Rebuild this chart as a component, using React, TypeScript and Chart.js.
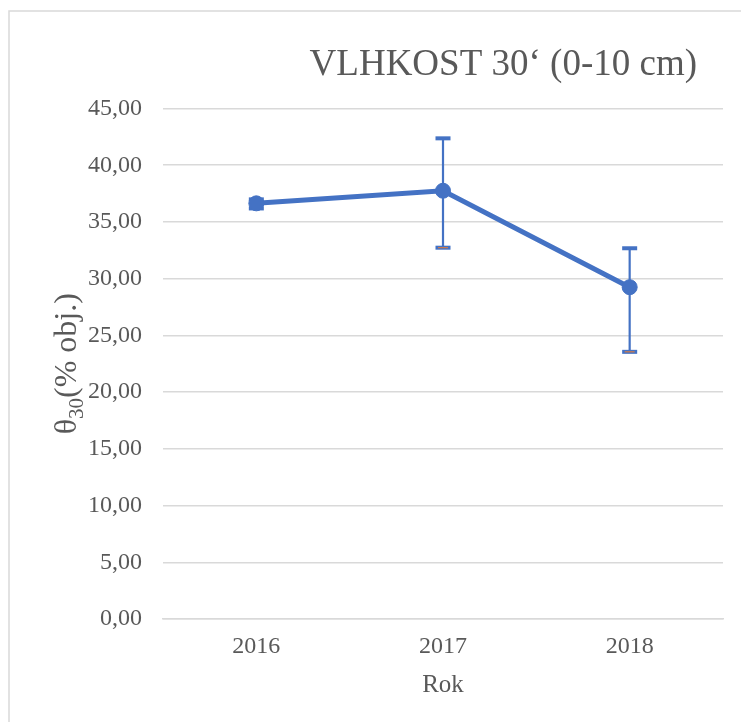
import React, { useEffect, useRef } from "react";
import { Chart, registerables } from "chart.js";

Chart.register(...registerables);

const categories = ["2016", "2017", "2018"];
const means = [36.64, 37.75, 29.25];
const errPlus = [0.35, 4.62, 3.43];
const errMinus = [0.45, 5.02, 5.7];
const yTicks = [0, 5, 10, 15, 20, 25, 30, 35, 40, 45];

const BLUE = "#4472C4";
const ORANGE = "#ED7D31";
const GRID = "#d9d9d9";
const TEXT = "#595959";
const FONT = "'Liberation Serif', 'Times New Roman', serif";

const framePlugin = {
  id: "frame",
  beforeDraw(chart: any) {
    const ctx = chart.ctx;
    ctx.save();
    ctx.fillStyle = "#ffffff";
    ctx.fillRect(0, 0, chart.width, chart.height);
    ctx.strokeStyle = GRID;
    ctx.lineWidth = 1.5;
    ctx.beginPath();
    ctx.moveTo(9, chart.height);
    ctx.lineTo(9, 11);
    ctx.lineTo(chart.width, 11);
    ctx.stroke();
    ctx.restore();
  },
  afterDraw(chart: any) {
    const ctx = chart.ctx;
    ctx.save();
    ctx.fillStyle = TEXT;
    // Title
    ctx.font = `37px ${FONT}`;
    ctx.textAlign = "right";
    ctx.textBaseline = "alphabetic";
    ctx.fillText("VLHKOST 30\u2018 (0-10 cm)", 697, 75);
    // Y axis title with subscript
    const area = chart.chartArea;
    const cy = (area.top + area.bottom) / 2;
    ctx.translate(76, cy);
    ctx.rotate(-Math.PI / 2);
    const big = `32px ${FONT}`;
    const small = `21px ${FONT}`;
    ctx.font = big;
    const w1 = ctx.measureText("\u03b8").width;
    const w3 = ctx.measureText("(% obj.)").width;
    ctx.font = small;
    const w2 = ctx.measureText("30").width;
    const total = w1 + w2 + w3;
    let x = -total / 2;
    ctx.textAlign = "left";
    ctx.font = big;
    ctx.fillText("\u03b8", x, 0);
    x += w1;
    ctx.font = small;
    ctx.fillText("30", x, 7);
    x += w2;
    ctx.font = big;
    ctx.fillText("(% obj.)", x, 0);
    ctx.restore();
  },
};

const errorBarPlugin = {
  id: "errorBars",
  beforeDatasetsDraw(chart: any) {
    const ctx = chart.ctx;
    const xs = chart.scales.x;
    const ys = chart.scales.y;
    ctx.save();
    means.forEach((m, i) => {
      const x = xs.getPixelForValue(i);
      const yt = ys.getPixelForValue(m + errPlus[i]);
      const yb = ys.getPixelForValue(m - errMinus[i]);
      ctx.strokeStyle = BLUE;
      ctx.lineWidth = 2.2;
      ctx.beginPath();
      ctx.moveTo(x, yt);
      ctx.lineTo(x, yb);
      ctx.stroke();
      ctx.fillStyle = BLUE;
      ctx.fillRect(x - 7.5, yt - 2, 15, 4);
      ctx.fillRect(x - 7.5, yb - 2, 15, 4);
      ctx.fillStyle = ORANGE;
      ctx.fillRect(x - 5, yb - 0.5, 10, 1);
    });
    ctx.restore();
  },
};

export default function App() {
  const ref = useRef<HTMLCanvasElement | null>(null);
  useEffect(() => {
    document.body.style.margin = "0";
    if (!ref.current) return;
    const chart = new Chart(ref.current, {
      type: "line",
      data: {
        labels: categories,
        datasets: [
          {
            data: means,
            borderColor: BLUE,
            backgroundColor: BLUE,
            borderWidth: 5,
            pointRadius: 7.5,
            pointBackgroundColor: BLUE,
            pointBorderColor: BLUE,
            pointBorderWidth: 1,
            tension: 0,
          },
        ],
      },
      options: {
        responsive: false,
        animation: false,
        devicePixelRatio: 1,
        layout: { padding: { left: 0, right: 18, top: 108.5, bottom: 0 } },
        plugins: {
          legend: { display: false },
          title: { display: false },
          tooltip: { enabled: false },
        },
        scales: {
          x: {
            type: "category",
            offset: true,
            afterFit(scale: any) {
              scale.height = 103;
            },
            grid: { display: false, drawTicks: false },
            border: { display: true, color: GRID, width: 1.5 },
            ticks: {
              color: TEXT,
              font: { family: FONT, size: 24 },
              padding: 13,
            },
            title: {
              display: true,
              text: "Rok",
              color: TEXT,
              font: { family: FONT, size: 25 },
              padding: { top: 0, bottom: 22 },
            },
          },
          y: {
            min: 0,
            max: 45,
            afterFit(scale: any) {
              scale.width = 163;
            },
            afterBuildTicks(scale: any) {
              scale.ticks = yTicks.map((v) => ({ value: v }));
            },
            grid: { color: GRID, lineWidth: 1.5, drawTicks: false },
            border: { display: false },
            ticks: {
              color: TEXT,
              font: { family: FONT, size: 24 },
              padding: 21,
              callback: (v: any) => Number(v).toFixed(2).replace(".", ","),
            },
          },
        },
      },
      plugins: [framePlugin, errorBarPlugin],
    } as any);
    return () => chart.destroy();
  }, []);
  return (
    <canvas
      ref={ref}
      width={741}
      height={722}
      style={{ display: "block", width: 741, height: 722 }}
    />
  );
}
